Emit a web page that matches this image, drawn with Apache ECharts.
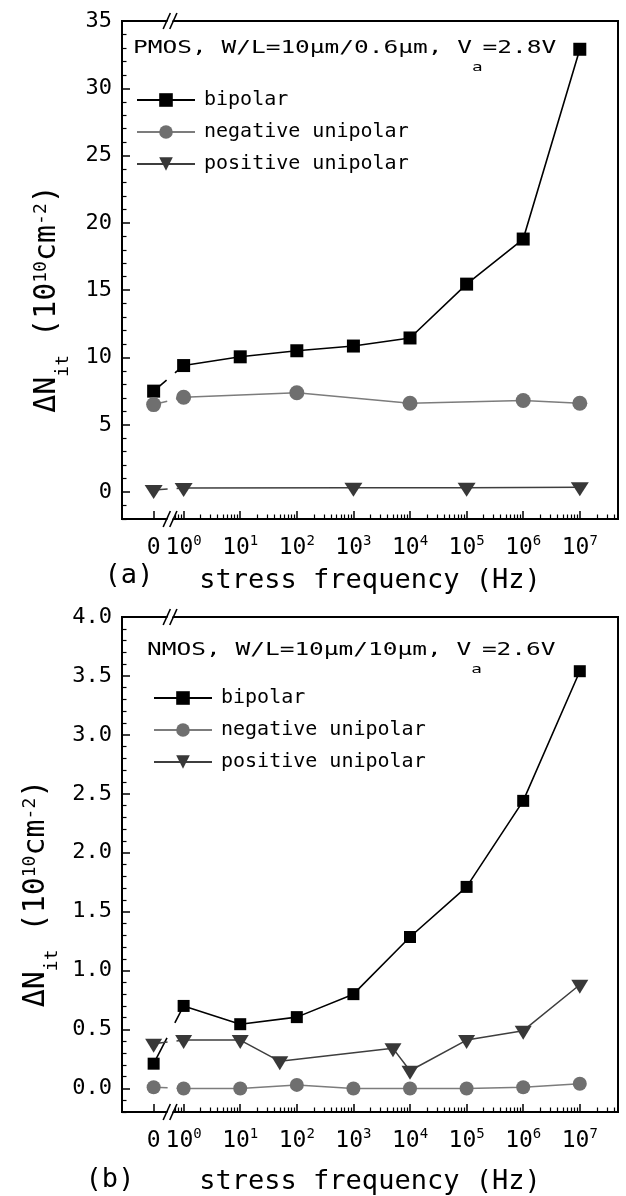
<!DOCTYPE html>
<html>
<head>
<meta charset="utf-8">
<script src="https://cdn.jsdelivr.net/npm/echarts@6/dist/echarts.min.js"></script>
<style>
  html,body{margin:0;padding:0;background:#fff;}
  #chart{width:626px;height:1196px;}
</style>
</head>
<body>
<div id="chart"></div>
<script>
// ===== Data
// x axis is log10(frequency); the "0 Hz" point sits left of the axis break
const FREQ_ZERO = -0.53;
const X_MIN = -1.089, X_MAX = 7.675, X_BREAK = -0.24;
const xDecades = [0,1,2,3,4,5,6,7];

// (a) PMOS, W/L=10um/0.6um, Va=2.8V
const aFreqBip = [0,1,10,100,1e3,1e4,1e5,1e6,1e7];
const aBip     = [7.5,9.4,10.05,10.5,10.85,11.45,15.45,18.8,32.9];
const aFreqNeg = [0,1,100,1e4,1e6,1e7];
const aNeg     = [6.5,7.05,7.38,6.6,6.8,6.6];
const aFreqPos = [0,1,1e3,1e5,1e7];
const aPos     = [0.15,0.3,0.32,0.33,0.35];
const aYTicks  = [0,5,10,15,20,25,30,35];
const aYRange  = [-2,35];

// (b) NMOS, W/L=10um/10um, Va=2.6V
const bFreqBip = [0,1,10,100,1e3,1e4,1e5,1e6,1e7];
const bBip     = [0.21,0.70,0.545,0.605,0.80,1.285,1.71,2.44,3.54];
const bFreqNeg = [0,1,10,100,1e3,1e4,1e5,1e6,1e7];
const bNeg     = [0.01,0.0,0.0,0.03,0.0,0.0,0.0,0.01,0.04];
const bFreqPos = [0,1,10,50,5000,1e4,1e5,1e6,1e7];
const bPos     = [0.38,0.41,0.41,0.23,0.34,0.15,0.41,0.49,0.88];
const bYTicks  = [0,0.5,1.0,1.5,2.0,2.5,3.0,3.5,4.0];
const bYRange  = [-0.2,4.0];

const NAMES = ['bipolar','negative unipolar','positive unipolar'];

// ===== Helpers
const FONT = "'DejaVu Sans Mono', monospace";
const fx = f => f === 0 ? FREQ_ZERO : Math.log10(f);

function xMinorTicks(){
  const out = [];
  for (let d=-1; d<=7; d++){
    for (let k=2; k<=9; k++){
      const v = d + Math.log10(k);
      if (v > -0.2 && v < X_MAX) out.push(v);
    }
  }
  return out;
}
function yMinorTicks(range, step, major){
  const out = [];
  const n = Math.round((range[1]-range[0])/step);
  for (let i=0;i<=n;i++){
    const v = +(range[0] + i*step).toFixed(3);
    if (!major.some(m => Math.abs(m-v) < 1e-6)) out.push(v);
  }
  return out;
}

const GRIDS = [
  { left:122, right:8, top:21, height:498 },
  { left:122, right:8, top:617, height:498 }
];

function xAxes(gi, nameGap){
  return [
    { gridIndex:gi, type:'value', position:'bottom', min:X_MIN, max:X_MAX,
      axisLine:{ show:true, onZero:false, lineStyle:{ color:'#000', width:2 } },
      axisTick:{ show:true, inside:true, length:8, customValues:[FREQ_ZERO].concat(xDecades), lineStyle:{ color:'#000', width:1.5 } },
      axisLabel:{ show:true, margin:15, customValues:[FREQ_ZERO].concat(xDecades), color:'#000',
        formatter: v => Math.abs(v-FREQ_ZERO) < 1e-6 ? '{n|0}' : '{n|10}{s|'+Math.round(v)+'}',
        rich:{
          n:{ fontFamily:FONT, fontSize:23, lineHeight:26, verticalAlign:'bottom', color:'#000' },
          s:{ fontFamily:FONT, fontSize:14, lineHeight:16, verticalAlign:'top', color:'#000' }
        } },
      splitLine:{ show:false },
      name:'stress frequency (Hz)', nameLocation:'middle', nameGap:nameGap,
      nameTextStyle:{ fontFamily:FONT, fontSize:27, color:'#000' } },
    { gridIndex:gi, type:'value', position:'bottom', min:X_MIN, max:X_MAX,
      axisLine:{ show:true, onZero:false, lineStyle:{ color:'#000', width:2 } },
      axisTick:{ show:true, inside:true, length:4.5, customValues:xMinorTicks(), lineStyle:{ color:'#000', width:1.2 } },
      axisLabel:{ show:false }, splitLine:{ show:false } }
  ];
}

function yAxes(gi, range, major, step, fmt){
  return [
    { gridIndex:gi, type:'value', position:'left', min:range[0], max:range[1],
      axisLine:{ show:true, onZero:false, lineStyle:{ color:'#000', width:2 } },
      axisTick:{ show:true, inside:true, length:8, customValues:major, lineStyle:{ color:'#000', width:1.5 } },
      axisLabel:{ show:true, margin:10, customValues:major, formatter:fmt, color:'#000', fontFamily:FONT, fontSize:22 },
      splitLine:{ show:false },
      name:'{t|ΔN}{sub|it}{t| (10}{sup|10}{t|cm}{sup|-2}{t|)}',
      nameLocation:'middle', nameGap:56,
      nameTextStyle:{ color:'#000', padding:[0,58,0,0],
        rich:{
          t:{ fontFamily:FONT, fontSize:30, lineHeight:34, verticalAlign:'top', color:'#000' },
          sub:{ fontFamily:FONT, fontSize:18, lineHeight:18, padding:[22,0,0,0], verticalAlign:'top', color:'#000' },
          sup:{ fontFamily:FONT, fontSize:18, lineHeight:18, verticalAlign:'top', color:'#000' }
        } } },
    { gridIndex:gi, type:'value', position:'left', min:range[0], max:range[1],
      axisLine:{ show:true, onZero:false, lineStyle:{ color:'#000', width:2 } },
      axisTick:{ show:true, inside:true, length:4.5, customValues:yMinorTicks(range, step, major), lineStyle:{ color:'#000', width:1.2 } },
      axisLabel:{ show:false }, splitLine:{ show:false } }
  ];
}

// one visible series plus a dashed lead segment (0 Hz -> 1 Hz, broken at the axis break)
function makeSeries(name, freqs, vals, st, gi){
  const pts = freqs.map((f,i) => [fx(f), vals[i]]);
  const common = { xAxisIndex:gi*2, yAxisIndex:gi*2, symbolRotate:st.rot||0, symbolOffset:st.off||[0,0],
    symbolSize:st.size, itemStyle:{ color:st.fill }, animation:false };
  return [
    Object.assign({}, common, { name:name+' lead', type:'line', z:2, silent:true, showSymbol:true, symbol:st.symbol,
      data:[{ value:pts[0] }, { value:pts[1], symbol:'none' }],
      lineStyle:{ color:st.line, width:st.lw, type:st.dash } }),
    Object.assign({}, common, { name:name, type:'line', z:3, symbol:st.symbol, showSymbol:true,
      data:pts.slice(1), lineStyle:{ color:st.line, width:st.lw } })
  ];
}

function breakSeries(gi, range){
  return {
    type:'custom', xAxisIndex:gi*2, yAxisIndex:gi*2, clip:false, silent:true, z:10, animation:false,
    data:[[X_BREAK, range[0]], [X_BREAK, range[1]]],
    renderItem:(params, api) => {
      const p = api.coord([api.value(0), api.value(1)]);
      const x1 = p[0]-3.3, x2 = p[0]+3.3, dx = 3.6, dy = 8;
      return { type:'group', children:[
        { type:'polygon', shape:{ points:[[x1-dx+1,p[1]+dy],[x1+dx+1,p[1]-dy],[x2+dx-1,p[1]-dy],[x2-dx-1,p[1]+dy]] }, style:{ fill:'#fff' } },
        { type:'line', shape:{ x1:x1-dx, y1:p[1]+dy, x2:x1+dx, y2:p[1]-dy }, style:{ stroke:'#000', lineWidth:1.6 } },
        { type:'line', shape:{ x1:x2-dx, y1:p[1]+dy, x2:x2+dx, y2:p[1]-dy }, style:{ stroke:'#000', lineWidth:1.6 } }
      ]};
    }
  };
}

const stA = {
  bip:{ symbol:'rect', size:13, fill:'#000', line:'#000', lw:1.6, dash:[17,11,60] },
  neg:{ symbol:'circle', size:15, fill:'#6f6f6f', line:'#7c7c7c', lw:1.5, dash:[14,9,60] },
  pos:{ symbol:'triangle', size:[18,14], rot:180, off:[0,2], fill:'#383838', line:'#3e3e3e', lw:1.5, dash:[14,9,60] }
};
const stB = {
  bip:{ symbol:'rect', size:12, fill:'#000', line:'#000', lw:1.6, dash:[29,17,100] },
  neg:{ symbol:'circle', size:14, fill:'#6f6f6f', line:'#7c7c7c', lw:1.5, dash:[14,9,60] },
  pos:{ symbol:'triangle', size:[17,14], rot:180, off:[0,2], fill:'#383838', line:'#3e3e3e', lw:1.5, dash:[14,9,60] }
};

function legendAt(left, top){
  return { data:NAMES, orient:'vertical', left:left, top:top, itemWidth:58, itemHeight:17, itemGap:10,
    selectedMode:false, textStyle:{ fontFamily:FONT, fontSize:20, lineHeight:22, color:'#000', padding:[0,0,0,4] } };
}

function annot(x, y, text){
  return { type:'text', x:x, y:y, scaleX:1.36, z:20,
    style:{ text:text, align:'left', verticalAlign:'top', fill:'#000',
      rich:{
        n:{ fontFamily:FONT, fontSize:18, lineHeight:22, verticalAlign:'top', fill:'#000' },
        s:{ fontFamily:FONT, fontSize:13, lineHeight:13, padding:[22,0,0,0], verticalAlign:'top', fill:'#000' }
      } } };
}

// ===== Chart
const chart = echarts.init(document.getElementById('chart'), null, { renderer:'canvas' });

const series = [].concat(
  makeSeries(NAMES[0], aFreqBip, aBip, stA.bip, 0),
  makeSeries(NAMES[1], aFreqNeg, aNeg, stA.neg, 0),
  makeSeries(NAMES[2], aFreqPos, aPos, stA.pos, 0),
  makeSeries(NAMES[0], bFreqBip, bBip, stB.bip, 1),
  makeSeries(NAMES[1], bFreqNeg, bNeg, stB.neg, 1),
  makeSeries(NAMES[2], bFreqPos, bPos, stB.pos, 1),
  [breakSeries(0, aYRange), breakSeries(1, bYRange)]
);

chart.setOption({
  backgroundColor:'#fff',
  animation:false,
  grid: GRIDS.map(g => Object.assign({ show:true, borderColor:'#000', borderWidth:2, backgroundColor:'transparent' }, g)),
  xAxis: [].concat(xAxes(0, 48), xAxes(1, 56)),
  yAxis: [].concat(
    yAxes(0, aYRange, aYTicks, 1, v => String(Math.round(v))),
    yAxes(1, bYRange, bYTicks, 0.1, v => v.toFixed(1))
  ),
  legend: [ legendAt(131, 84), legendAt(148, 682) ],
  graphic: [
    annot(133, 39, '{n|PMOS, W/L=10μm/0.6μm, V}{s|a}{n|=2.8V}'),
    annot(147, 641, '{n|NMOS, W/L=10μm/10μm, V}{s|a}{n|=2.6V}'),
    { type:'text', x:129, y:576, style:{ text:'(a)', align:'center', verticalAlign:'middle', fontFamily:FONT, fontSize:27, fill:'#000' } },
    { type:'text', x:110, y:1180, style:{ text:'(b)', align:'center', verticalAlign:'middle', fontFamily:FONT, fontSize:27, fill:'#000' } }
  ],
  series: series
});
</script>
</body>
</html>
